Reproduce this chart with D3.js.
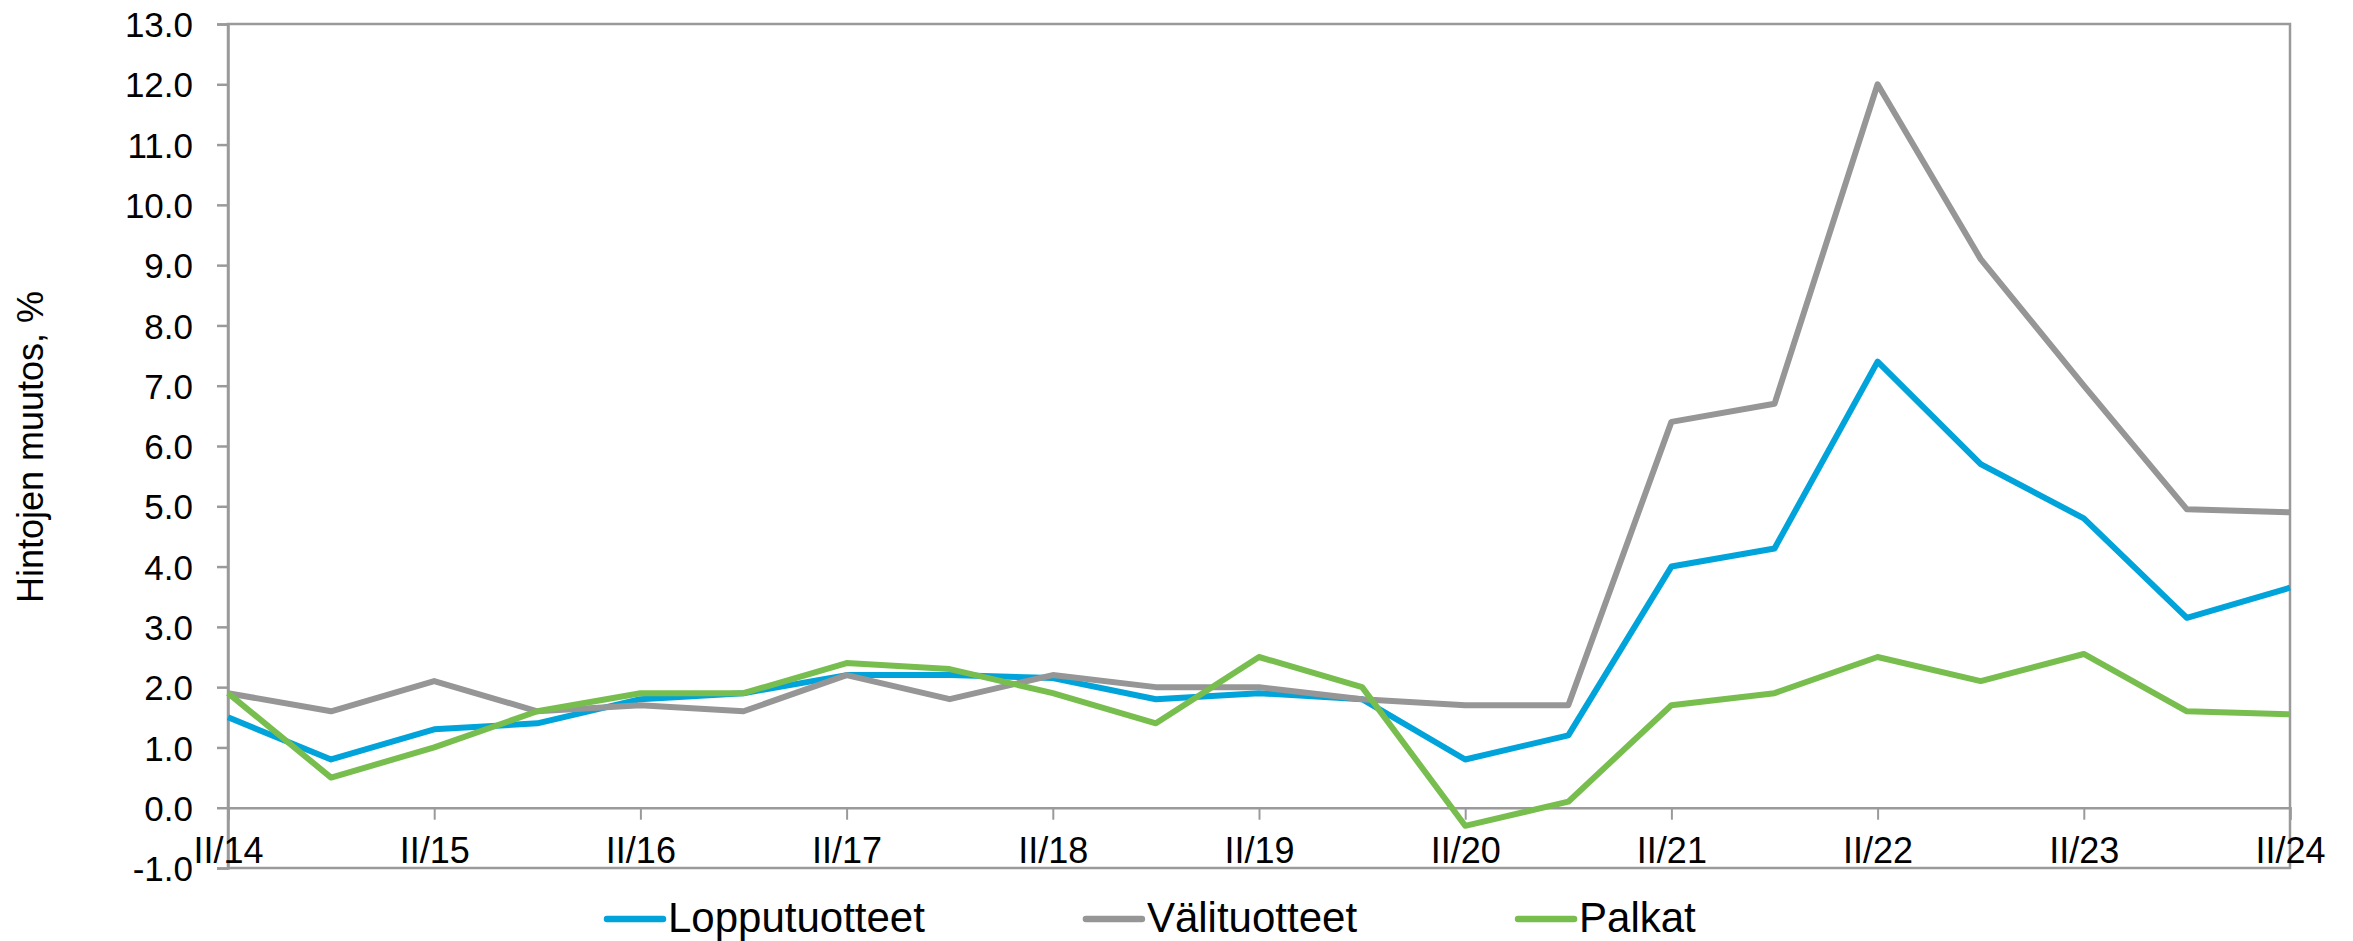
<!DOCTYPE html>
<html>
<head>
<meta charset="utf-8">
<script src="https://cdn.jsdelivr.net/npm/d3@7"></script>
<style>
  body { margin: 0; background: #fff; }
  svg text { font-family: "Liberation Sans", Arial, sans-serif; fill: #000; }
</style>
</head>
<body>
<div id="chart"></div>
<script>

// half-year periods, II and IV quarters
var periods = ["II/14","IV/14","II/15","IV/15","II/16","IV/16","II/17","IV/17","II/18","IV/18",
               "II/19","IV/19","II/20","IV/20","II/21","IV/21","II/22","IV/22","II/23","IV/23","II/24"]

var lopputuotteet = [1.5, 0.8, 1.3, 1.4, 1.8, 1.9, 2.2, 2.2, 2.15, 1.8, 1.9, 1.8, 0.8, 1.2, 4.0, 4.3, 7.4, 5.7, 4.8, 3.15, 3.65]
var valituotteet  = [1.9, 1.6, 2.1, 1.6, 1.7, 1.6, 2.2, 1.8, 2.2, 2.0, 2.0, 1.8, 1.7, 1.7, 6.4, 6.7, 12.0, 9.1, 7.0, 4.95, 4.9]
var palkat        = [1.9, 0.5, 1.0, 1.6, 1.9, 1.9, 2.4, 2.3, 1.9, 1.4, 2.5, 2.0, -0.3, 0.1, 1.7, 1.9, 2.5, 2.1, 2.55, 1.6, 1.55]

var seriesNames = ["Lopputuotteet", "Välituotteet", "Palkat"]
var seriesColors = ["#00a3da", "#969696", "#78be4f"]
var yTicks = d3.range(-1, 14, 1)

var series = [lopputuotteet, valituotteet, palkat].map(function(values, i) {
    return { name: seriesNames[i], color: seriesColors[i], values: values }
})

var width = 2353, height = 941
var plotLeft = 228, plotRight = 2290, plotTop = 24, plotBottom = 868
var axisColor = "#9a9a9a"

var svg = d3.select("#chart").append("svg")
    .attr("width", width)
    .attr("height", height)

var x = d3.scalePoint().domain(periods).range([plotLeft, plotRight]).padding(0)
var y = d3.scaleLinear().domain([-1, 13]).range([plotBottom, plotTop])

// plain hyphen for negatives, like the original
var fmt = function(d) { return d.toFixed(1) }

// plot frame
svg.append("rect")
    .attr("x", plotLeft).attr("y", plotTop)
    .attr("width", plotRight - plotLeft).attr("height", plotBottom - plotTop)
    .attr("fill", "none")
    .attr("stroke", axisColor)
    .attr("stroke-width", 2.5)

// y axis
var yAxis = svg.append("g")
    .attr("transform", "translate(" + plotLeft + ",0)")
    .call(d3.axisLeft(y).tickValues(yTicks).tickSize(11).tickPadding(24).tickFormat(fmt))

yAxis.select(".domain").attr("stroke", axisColor).attr("stroke-width", 2.5)
yAxis.selectAll(".tick line").attr("stroke", axisColor).attr("stroke-width", 2.5)
yAxis.selectAll(".tick text")
    .attr("font-size", 35)
    .attr("font-family", "Liberation Sans, Arial, sans-serif")
    .attr("dy", "0.36em")

// x axis sitting on zero
var xAxis = svg.append("g")
    .attr("transform", "translate(0," + y(0) + ")")
    .call(d3.axisBottom(x)
        .tickValues(periods.filter(function(p) { return p.indexOf("II/") === 0 }))
        .tickSize(12).tickPadding(0))

xAxis.select(".domain").attr("stroke", axisColor).attr("stroke-width", 2.5)
xAxis.selectAll(".tick line").attr("stroke", axisColor).attr("stroke-width", 2)
xAxis.selectAll(".tick text")
    .attr("font-size", 36)
    .attr("font-family", "Liberation Sans, Arial, sans-serif")
    .attr("y", plotBottom - 5 - y(0))
    .attr("dy", 0)

// y title
svg.append("text")
    .attr("transform", "translate(43," + ((plotTop + plotBottom) / 2 + 1) + ") rotate(-90)")
    .attr("text-anchor", "middle")
    .attr("font-size", 36)
    .text("Hintojen muutos, %")

// lines
var line = d3.line()
    .x(function(d, i) { return x(periods[i]) })
    .y(function(d) { return y(d) })

svg.append("g").selectAll("path")
    .data(series)
    .join("path")
    .attr("d", function(d) { return line(d.values) })
    .attr("fill", "none")
    .attr("stroke", function(d) { return d.color })
    .attr("stroke-width", 6)
    .attr("stroke-linejoin", "round")

// legend
var legend = svg.append("g")
var lx = 607
series.forEach(function(s) {
    legend.append("line")
        .attr("x1", lx).attr("x2", lx + 56)
        .attr("y1", 919).attr("y2", 919)
        .attr("stroke", s.color)
        .attr("stroke-width", 6.5)
        .attr("stroke-linecap", "round")
    var t = legend.append("text")
        .attr("x", lx + 61)
        .attr("y", 932)
        .attr("font-size", 42)
        .text(s.name)
    lx = lx + 61 + t.node().getComputedTextLength() + 161
})

</script>
</body>
</html>
